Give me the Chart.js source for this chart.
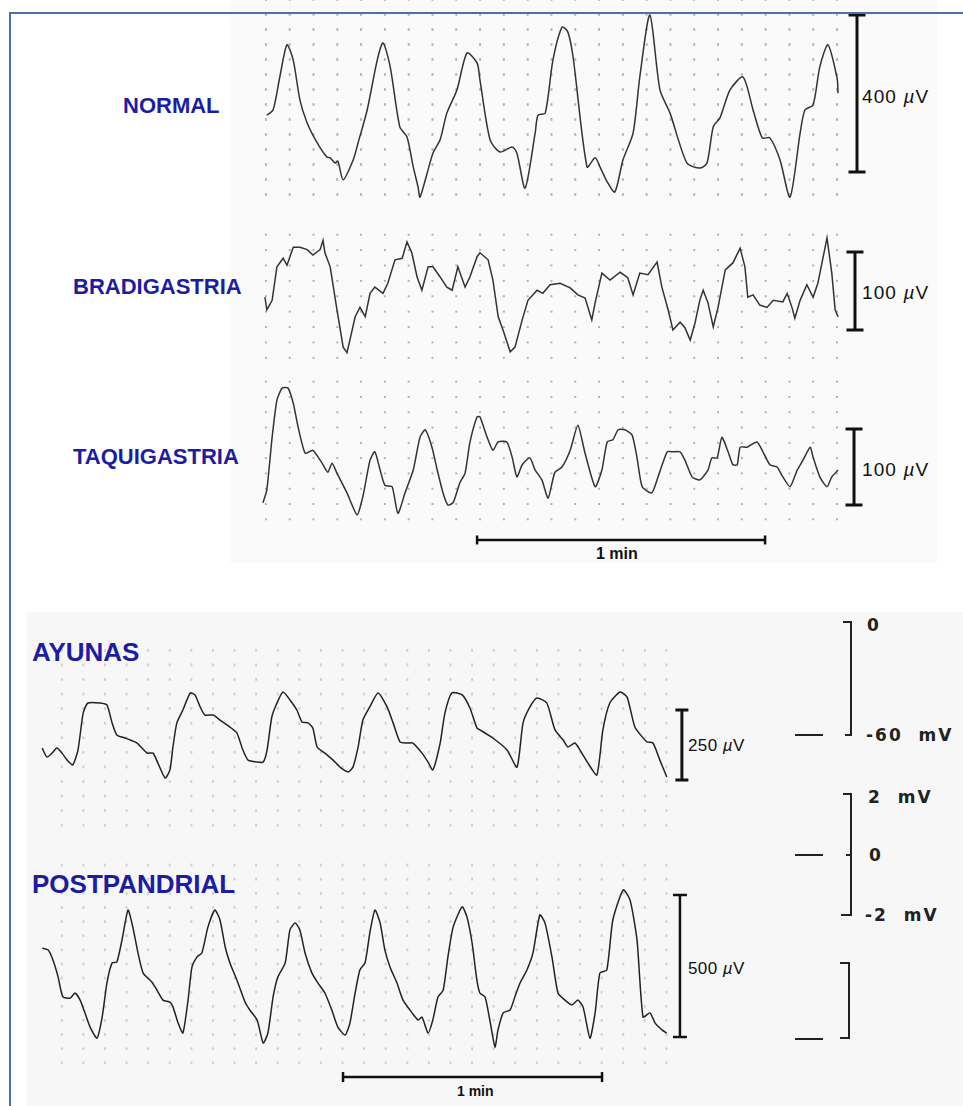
<!DOCTYPE html>
<html>
<head>
<meta charset="utf-8">
<script src="https://cdn.jsdelivr.net/npm/chart.js@4"></script>
<style>
  body{margin:0;width:963px;height:1106px;overflow:hidden;background:#fff;position:relative;font-family:'Liberation Sans',Arial,sans-serif;}
  .abs{position:absolute;}
  .paperTop{left:230px;top:0;width:707px;height:563px;background:#fafafa;}
  .paperBot{left:27px;top:612px;width:936px;height:494px;background:#f7f7f7;}
  .dotsT{background-image:radial-gradient(circle at center,#b0b0b0 0,#b0b0b0 1px,transparent 1.5px);}
  .dotsB{background-image:radial-gradient(circle at center,#cdcdcd 0,#cdcdcd 1px,transparent 1.5px);}
  .frame{left:9px;top:12px;width:980px;height:1120px;border-left:2px solid #4a72a8;border-top:2px solid #4a72a8;z-index:5;}
  .lab{position:absolute;color:#1c1ca4;font-weight:bold;white-space:nowrap;line-height:1;transform:translateY(-50%);}
  .unit{position:absolute;color:#111;white-space:nowrap;line-height:1;transform:translateY(-50%);}
  .mono{position:absolute;color:#222;white-space:pre;line-height:1;transform:translateY(-50%);font-family:'DejaVu Sans',sans-serif;font-weight:bold;}
  .ln{position:absolute;background:#222;}
  canvas{position:absolute;}
</style>
</head>
<body>
<div class="abs paperTop"></div>
<div class="abs paperBot"></div>

<!-- dotted chart paper strips -->
<div class="abs dotsT" style="left:254.3px;top:-8.5px;width:595px;height:210px;background-size:23.8px 15px;"></div>
<div class="abs dotsT" style="left:254.3px;top:227.3px;width:595px;height:138.6px;background-size:23.8px 15.4px;"></div>
<div class="abs dotsT" style="left:254.3px;top:374.3px;width:595px;height:153px;background-size:23.8px 15.3px;"></div>
<div class="abs dotsB" style="left:51.2px;top:642.7px;width:626.4px;height:189.5px;background-size:21.6px 14.58px;"></div>
<div class="abs dotsB" style="left:51.2px;top:857.9px;width:626.4px;height:212.1px;background-size:21.6px 14.14px;"></div>

<div class="abs frame"></div>

<!-- labels -->
<div class="lab" style="left:123px;top:106px;font-size:22px;">NORMAL</div>
<div class="lab" style="left:73px;top:287px;font-size:22px;">BRADIGASTRIA</div>
<div class="lab" style="left:73px;top:457px;font-size:22px;">TAQUIGASTRIA</div>
<div class="lab" style="left:32px;top:652px;font-size:26px;">AYUNAS</div>
<div class="lab" style="left:32px;top:884px;font-size:26px;">POSTPANDRIAL</div>

<div class="unit" style="left:862px;top:96px;font-size:19px;letter-spacing:1.1px;">400 <i>µ</i>V</div>
<div class="unit" style="left:862px;top:292px;font-size:19px;letter-spacing:1.1px;">100 <i>µ</i>V</div>
<div class="unit" style="left:862px;top:469px;font-size:19px;letter-spacing:1.1px;">100 <i>µ</i>V</div>
<div class="unit" style="left:596px;top:554px;font-size:16px;font-weight:bold;">1 min</div>
<div class="unit" style="left:688px;top:745px;font-size:17px;letter-spacing:0.4px;">250 <i>µ</i>V</div>
<div class="unit" style="left:688px;top:968px;font-size:17px;letter-spacing:0.4px;">500 <i>µ</i>V</div>
<div class="unit" style="left:457px;top:1091px;font-size:14px;font-weight:bold;">1 min</div>

<!-- membrane potential reference brackets -->
<div class="mono" style="left:867px;top:625px;font-size:17px;">0</div>
<div class="mono" style="left:866px;top:735px;font-size:17px;letter-spacing:2px;">-60  mV</div>
<div class="mono" style="left:868px;top:797px;font-size:17px;letter-spacing:2px;">2  mV</div>
<div class="mono" style="left:869px;top:855px;font-size:17px;">0</div>
<div class="mono" style="left:865px;top:915px;font-size:17px;letter-spacing:2px;">-2  mV</div>

<div class="ln" style="left:850px;top:621px;width:2px;height:115px;"></div>
<div class="ln" style="left:843px;top:621px;width:9px;height:2px;"></div>
<div class="ln" style="left:845px;top:734px;width:7px;height:2px;"></div>
<div class="ln" style="left:795px;top:734px;width:28px;height:2px;"></div>

<div class="ln" style="left:850px;top:793px;width:2px;height:123px;"></div>
<div class="ln" style="left:843px;top:793px;width:9px;height:2px;"></div>
<div class="ln" style="left:846px;top:854px;width:6px;height:2px;"></div>
<div class="ln" style="left:841px;top:914px;width:11px;height:2px;"></div>
<div class="ln" style="left:795px;top:854px;width:28px;height:2px;"></div>

<div class="ln" style="left:848px;top:962px;width:2px;height:77px;"></div>
<div class="ln" style="left:840px;top:962px;width:10px;height:2px;"></div>
<div class="ln" style="left:840px;top:1037px;width:10px;height:2px;"></div>
<div class="ln" style="left:795px;top:1038px;width:28px;height:2px;"></div>

<script>
// ===== DATA (time in s, amplitude in µV) =====
const normalT = [0.8,2.1,3.5,5.0,6.3,7.7,9.2,11.3,13.3,14.0,15.0,15.6,16.7,18.8,19.8,21.7,23.8,25.0,26.5,28.5,30.0,31.3,32.3,32.7,34.2,35.4,36.9,38.3,40.4,42.5,44.6,45.2,47.3,49.4,51.9,52.9,54.6,56.7,57.3,58.8,60.4,62.3,63.5,64.6,67.5,69.2,70.2,71.7,73.3,75.0,77.1,78.5,80.6,82.7,84.8,88.3,91.0,92.5,93.8,95.2,97.3,100.0,102.1,104.0,105.6,107.7,109.8,111.9,112.9,114.6,116.0,117.7,119.6,119.8];
const normalUV = [-55,-42,42,124,85,-17,-75,-126,-162,-164,-177,-172,-220,-169,-126,-42,85,129,68,-85,-111,-187,-238,-264,-203,-152,-118,-50,9,103,78,34,-118,-149,-136,-152,-241,-101,-55,-50,85,169,157,93,-187,-164,-187,-225,-251,-169,-101,42,200,9,-50,-177,-190,-177,-85,-62,9,42,-42,-113,-113,-169,-264,-101,-42,-29,68,124,39,1];

const bradyT = [0.4,0.8,1.9,2.9,4.2,5.0,6.3,7.7,9.2,10.4,11.9,12.5,12.9,14.0,15.4,16.7,17.5,18.1,19.2,20.2,21.3,22.3,23.3,25.0,26.0,27.5,29.0,30.0,31.0,32.1,33.1,34.4,35.4,36.9,38.3,39.4,40.6,42.1,43.1,44.6,45.2,46.9,47.9,49.0,50.0,51.5,52.5,54.0,55.2,57.1,58.3,59.8,61.9,64.0,65.6,67.1,68.5,69.2,70.6,72.3,74.4,76.0,77.1,78.5,80.2,82.1,83.1,84.4,85.4,86.9,87.9,89.0,90.0,91.0,91.7,92.7,93.8,94.8,96.3,97.9,99.4,100.4,101.0,102.1,103.5,105.0,106.3,108.3,109.2,110.2,110.8,111.9,113.3,114.6,115.6,117.5,118.5,119.2,119.8];
const bradyUV = [-8,-24,-12,31,42,33,56,56,53,46,53,65,49,31,-24,-72,-79,-63,-33,-21,-33,-3,5,-3,10,40,42,63,49,18,1,31,31,18,5,1,31,5,18,44,49,40,14,-33,-50,-78,-72,-37,-12,1,-3,8,10,4,-5,-9,-37,-15,23,14,24,17,-5,23,21,37,5,-24,-50,-40,-47,-63,-41,-12,1,-15,-46,-21,27,36,55,31,-8,-5,-18,-21,-12,-14,-3,-21,-35,-12,8,-8,10,68,23,-24,-33];

const taquiT = [0,0.8,1.9,2.9,4.0,5.2,6.3,7.3,8.8,10.4,12.3,13.5,14.4,15.4,17.5,19.6,20.8,22.3,23.3,24.4,25.4,26.9,28.1,29.6,31.3,32.7,33.8,35.2,36.3,37.5,38.5,39.6,41.0,42.1,43.1,44.6,45.2,46.7,47.9,49.0,50.8,51.9,52.9,54.0,55.6,56.7,58.1,59.4,60.8,62.3,64.0,65.6,67.1,69.2,70.6,71.7,72.9,74.0,75.4,76.9,77.9,79.0,81.0,82.3,84.2,85.4,86.9,87.9,89.4,91.0,92.7,93.5,94.6,95.6,96.9,97.9,98.8,99.4,100.8,102.9,104.0,105.6,107.1,108.1,109.8,111.3,112.5,114.0,114.6,116.0,117.5,118.5,119.8];
const taquiUV = [-47,-30,39,88,104,104,84,53,18,22,5,-7,5,-8,-34,-63,-39,9,20,-4,-24,-26,-61,-34,-4,39,49,26,-4,-34,-50,-47,-21,-8,32,66,66,39,22,33,33,13,-13,3,12,-4,-17,-41,-7,0,22,55,18,-26,-4,33,36,49,49,42,13,-26,-34,-13,20,20,20,9,-13,-17,-4,12,12,39,20,3,3,26,26,33,22,3,0,-11,-26,-4,9,26,13,-13,-26,-13,-4];

const ayunasT = [0.5,1.6,2.8,3.9,5.1,6.3,7.6,8.8,10.0,11.1,13.9,15.5,16.7,17.8,19.7,20.9,22.5,24.8,26.2,27.3,29.0,30.1,30.8,31.7,33.1,34.8,35.9,37.1,38.2,40.1,41.7,44.0,45.6,47.0,48.2,50.3,51.7,52.6,53.7,54.9,56.3,57.9,59.5,60.7,62.1,63.2,64.2,66.0,67.9,69.5,71.4,72.5,73.7,74.8,76.4,78.3,80.4,81.8,83.4,85.0,86.4,88.5,89.9,91.0,92.7,93.8,95.4,97.8,99.6,101.2,101.9,104.9,108.2,110.5,111.9,113.5,115.1,117.4,119.3,121.2,122.3,123.9,125.1,126.9,129.0,130.4,132.0,134.4,136.0,137.8,139.5,140.6,142.0,143.6,145.2];
const ayunasUV = [-11,-43,-29,-11,-29,-54,-71,-18,114,150,150,143,79,36,25,18,7,-29,-29,-64,-118,-89,-7,79,125,186,179,136,107,107,89,64,43,-18,-54,-61,-61,-18,100,150,189,161,125,82,79,61,-7,-29,-54,-79,-96,-79,-7,89,136,186,136,79,11,7,7,-29,-61,-89,7,114,186,179,132,61,54,25,-18,-79,79,136,168,150,54,18,-7,7,-18,-64,-107,54,150,189,171,64,29,11,7,-54,-114];

const postT = [0.5,1.9,3.0,4.2,5.3,7.0,8.1,9.3,10.4,11.6,13.2,14.4,15.5,16.7,17.8,19.0,20.4,21.5,22.7,23.9,25.9,27.1,28.5,30.1,30.8,32.0,33.1,34.3,35.2,36.4,37.5,38.9,40.5,41.7,42.9,44.0,45.6,47.5,48.6,50.3,51.7,52.8,54.0,55.1,56.8,57.9,59.1,60.2,61.4,63.0,64.4,66.0,67.6,69.0,70.7,71.8,73.0,74.1,75.3,76.4,77.6,78.8,79.9,81.1,82.7,84.1,86.2,87.6,88.5,89.9,91.0,92.2,93.4,94.5,95.7,97.8,98.9,100.1,101.2,101.9,103.1,104.2,105.4,106.1,107.3,108.9,110.0,111.2,112.8,114.2,115.8,117.0,118.6,120.0,121.6,123.2,124.6,125.8,127.4,128.6,129.7,131.3,132.7,135.1,136.7,138.3,139.7,141.3,142.5,144.1,145.2];
const postUV = [63,56,21,-39,-109,-113,-95,-120,-165,-215,-254,-180,-60,11,14,92,197,137,46,-25,-56,-85,-120,-127,-144,-201,-236,-120,-4,32,46,137,197,162,67,11,-49,-127,-155,-190,-271,-236,-109,-39,11,127,151,127,46,-25,-60,-95,-155,-215,-243,-201,-95,-14,11,116,197,151,56,-4,-60,-120,-165,-190,-180,-236,-190,-109,-85,32,137,208,173,81,-49,-95,-109,-190,-285,-225,-165,-155,-109,-60,-14,46,180,151,32,-95,-120,-137,-120,-144,-254,-165,-25,-14,162,268,232,92,-180,-165,-201,-225,-236];

// calibration bars (µV) and time bar (s)
const scaleBarUV = [400, 100, 100, 250, 500];
const timeBarSeconds = [60, 60];

// ===== LAYOUT (pixels) =====
const TOP = {originX:263, pxPerSec:4.8, left:255, width:625};
const BOT = {originX:40, pxPerSec:4.3167, left:30, width:665};
const traces = [
  {grp:TOP, t:normalT, v:normalUV, zeroY:93.5, pxPerUV:0.3925, top:0,   height:212, barT:123.75, cap:8.5, bw:3, color:'#333', tension:0.25},
  {grp:TOP, t:bradyT,  v:bradyUV,  zeroY:291,  pxPerUV:0.78,   top:212, height:164, barT:123.33, cap:8.5, bw:3, color:'#333', tension:0},
  {grp:TOP, t:taquiT,  v:taquiUV,  zeroY:467,  pxPerUV:0.76,   top:376, height:190, barT:123.13, cap:8.5, bw:3, color:'#333', tension:0.2,
     timeBar:{t0:44.6, uv:-96, cap:4.5, tb:0}},
  {grp:BOT, t:ayunasT, v:ayunasUV, zeroY:745,  pxPerUV:0.28,   top:660, height:145, barT:148.7,  cap:6.5, bw:3, color:'#222', tension:0.2},
  {grp:BOT, t:postT,   v:postUV,   zeroY:966,  pxPerUV:0.284,  top:860, height:240, barT:148.25, cap:7,   bw:2.5, color:'#222', tension:0.2,
     timeBar:{t0:70.2, uv:-391, cap:5, tb:1}}
];

traces.forEach((tr, i) => {
  const g = tr.grp;
  const cv = document.createElement('canvas');
  cv.width = g.width; cv.height = tr.height;
  cv.style.left = g.left + 'px'; cv.style.top = tr.top + 'px';
  cv.style.zIndex = 2;
  document.body.appendChild(cv);
  const xMin = (g.left - g.originX) / g.pxPerSec;
  const xMax = (g.left + g.width - g.originX) / g.pxPerSec;
  const yMax = (tr.zeroY - tr.top) / tr.pxPerUV;
  const yMin = (tr.zeroY - tr.top - tr.height) / tr.pxPerUV;
  const n = Math.min(tr.t.length, tr.v.length);
  const pts = [];
  for (let k = 0; k < n; k++) pts.push({x: tr.t[k], y: tr.v[k]});
  const half = scaleBarUV[i] / 2;
  const datasets = [
    {data: pts, borderColor: tr.color, borderWidth: 1.5, pointRadius: 0, tension: tr.tension, clip: false},
    {data: [{x: tr.barT, y: -half}, {x: tr.barT, y: half}], borderColor: '#111', borderWidth: tr.bw,
     pointStyle: 'line', pointRadius: tr.cap, pointBorderWidth: tr.bw, pointBorderColor: '#111', tension: 0, clip: false}
  ];
  if (tr.timeBar) {
    const tb = tr.timeBar;
    datasets.push({data: [{x: tb.t0, y: tb.uv}, {x: tb.t0 + timeBarSeconds[tb.tb], y: tb.uv}], borderColor: '#111', borderWidth: 2.5,
      pointStyle: 'line', pointRotation: 90, pointRadius: tb.cap, pointBorderWidth: 2.5, pointBorderColor: '#111', tension: 0, clip: false});
  }
  new Chart(cv, {
    type: 'line',
    data: {datasets},
    options: {
      responsive: false, animation: false, events: [],
      layout: {padding: 0, autoPadding: false},
      plugins: {legend: {display: false}, tooltip: {enabled: false}},
      scales: {
        x: {type: 'linear', display: false, min: xMin, max: xMax},
        y: {type: 'linear', display: false, min: yMin, max: yMax}
      }
    }
  });
});
</script>
</body>
</html>
